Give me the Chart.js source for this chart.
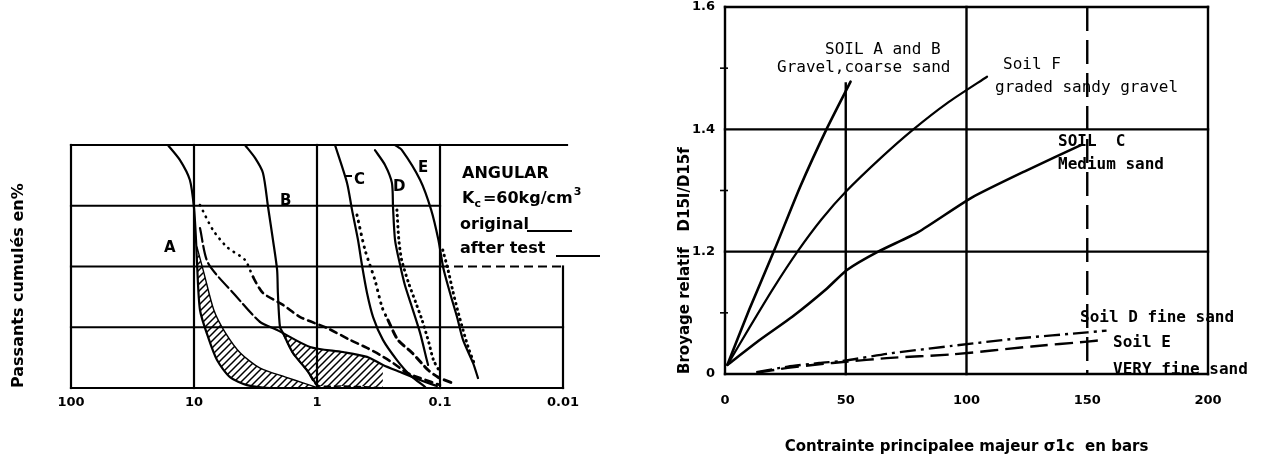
<!DOCTYPE html>
<html><head><meta charset="utf-8">
<script src="https://cdn.jsdelivr.net/npm/chart.js@4.4.1/dist/chart.umd.min.js"></script>
<style>
html,body{margin:0;padding:0;background:#fff;width:1273px;height:462px;overflow:hidden}
canvas{position:absolute;top:0}
#c1{left:0}
#c2{left:640px}
</style></head><body>
<canvas id="c1" width="640" height="462"></canvas>
<canvas id="c2" width="633" height="462"></canvas>
<script>
// ===== Left chart: grain size (mm, log, reversed) vs cumulative % passing =====
const sizeTicks = [100, 10, 1, 0.1, 0.01];
const sizeTickLabels = ['100', '10', '1', '0.1', '0.01'];
const passGrid = [25, 50, 75];

const aOrigD  = [16.3, 13.0, 10.8, 10.0, 9.63, 9.45, 8.94, 7.69, 6.50, 5.10, 3.71, 2.41, 0.98];
const aOrigP  = [100, 93.8, 85.6, 74.1, 60.9, 51.4, 32.1, 21.0, 11.5, 4.5, 1.2, 0, 0];
const aAfterD = [9.45, 8.30, 6.90, 5.60, 4.20, 2.90, 1.80, 1.30, 0.98];
const aAfterP = [58.0, 47.3, 32.1, 23.0, 14.4, 8.2, 4.5, 2.1, 0];

const bAfterD = [8.94, 7.01, 5.39, 3.85, 3.31, 2.75, 1.89, 1.37, 0.83, 0.539, 0.392, 0.307, 0.241, 0.185, 0.145, 0.1];
const bAfterP = [75.3, 65.0, 58.0, 52.7, 45.7, 39.1, 34.2, 29.2, 24.7, 19.8, 16.5, 13.6, 10.3, 6.2, 4.1, 1.2];

const a2AfterD = [8.94, 7.69, 4.64, 2.91, 2.11, 1.14, 0.615, 0.392, 0.291, 0.211, 0.145, 0.106];
const a2AfterP = [65.8, 51.4, 38.3, 27.2, 23.9, 16.9, 14.8, 12.8, 9.5, 6.6, 3.3, 0.8];

const bOrigD = [3.85, 3.19, 2.75, 2.50, 2.28, 2.11, 2.08, 2.00, 1.89, 1.57, 1.21, 1.00, 0.946];
const bOrigP = [100, 94.7, 88.5, 74.5, 60.9, 48.6, 39.1, 25.1, 22.6, 14.4, 7.4, 1.2, 0];
const bBaseD = [1.89, 1.57, 1.21, 1.00, 0.615, 0.371, 0.291];
const bBaseP = [22.6, 14.4, 7.4, 1.2, 0.8, 0.4, 0];

const cOrigD  = [0.714, 0.570, 0.519, 0.464, 0.431, 0.392, 0.350, 0.291, 0.224, 0.175, 0.132];
const cOrigP  = [100, 84.4, 73.3, 60.9, 50.6, 39.1, 29.2, 19.8, 11.5, 5.3, 0.4];
const cAfterD = [0.473, 0.407, 0.338, 0.296, 0.265, 0.220, 0.168, 0.125, 0.104, 0.080];
const cAfterP = [71.2, 56.8, 44.4, 33.3, 28.0, 19.8, 14.4, 7.4, 4.5, 2.1];

const dOrigD  = [0.338, 0.280, 0.246, 0.241, 0.232, 0.211, 0.193, 0.169, 0.145, 0.128, 0.125];
const dOrigP  = [97.9, 91.8, 84.4, 74.5, 60.9, 50.6, 42.4, 33.3, 22.6, 11.5, 9.5];
const dAfterD = [0.224, 0.216, 0.205, 0.180, 0.157, 0.140, 0.123, 0.113, 0.099];
const dAfterP = [73.3, 60.9, 52.7, 43.2, 35.0, 28.0, 18.5, 11.5, 6.2];

const eOrigD  = [0.232, 0.204, 0.145, 0.118, 0.103, 0.094, 0.0829, 0.0727, 0.065, 0.0539, 0.0491];
const eOrigP  = [100, 97.9, 85.6, 73.3, 60.9, 49.4, 39.1, 29.2, 19.8, 10.3, 4.1];
const eAfterD = [0.095, 0.086, 0.079, 0.072, 0.065, 0.058, 0.052];
const eAfterP = [56.8, 48.6, 40.3, 32.1, 23.9, 15.6, 9.5];

// ===== Right chart: major principal stress (bars) vs relative crushing D15i/D15f =====
const stressTicks = [0, 50, 100, 150, 200];
const stressTickLabels = ['0', '50', '100', '150', '200'];
const ratioTicks = [1.0, 1.2, 1.4, 1.6];
const ratioTickLabels = ['0', '1.2', '1.4', '1.6'];
const ratioGrid = [1.2, 1.4];
const ratioMinor = [1.1, 1.3, 1.5];

const soilABx = [1, 10, 20.7, 31, 42, 52];
const soilABy = [1.015, 1.105, 1.205, 1.305, 1.40, 1.478];
const soilFx  = [1, 10, 20, 30, 40, 50, 65, 78, 92, 108.5];
const soilFy  = [1.015, 1.075, 1.14, 1.20, 1.253, 1.298, 1.355, 1.40, 1.443, 1.486];
const soilCx  = [1, 14.5, 28, 42, 50.5, 63.4, 80, 102, 125, 147.8];
const soilCy  = [1.015, 1.056, 1.094, 1.139, 1.17, 1.20, 1.232, 1.288, 1.333, 1.375];
const soilDx  = [13, 26, 39, 50, 67, 94, 121, 150, 158];
const soilDy  = [1.003, 1.012, 1.018, 1.022, 1.033, 1.046, 1.058, 1.068, 1.071];
const soilEx  = [13, 26, 39, 50, 67, 94, 127, 150, 157];
const soilEy  = [1.002, 1.010, 1.016, 1.020, 1.026, 1.032, 1.045, 1.053, 1.056];

// ---------------------------------------------------------------
Chart.defaults.font.family = "'DejaVu Sans', sans-serif";
Chart.defaults.color = '#000';

const pts = (xs, ys) => xs.map((v, i) => ({x: v, y: ys[i]}));

function makeHatch() {
  const c = document.createElement('canvas');
  c.width = 7; c.height = 7;
  const g = c.getContext('2d');
  g.strokeStyle = '#000'; g.lineWidth = 1.5;
  g.beginPath();
  g.moveTo(-1, 8); g.lineTo(8, -1);
  g.moveTo(-1, 1); g.lineTo(1, -1);
  g.moveTo(6, 8); g.lineTo(8, 6);
  g.stroke();
  return document.getElementById('c1').getContext('2d').createPattern(c, 'repeat');
}
const hatch = makeHatch();

const base = {pointRadius: 0, borderColor: '#000', borderWidth: 2.2, fill: false,
  tension: 0.25, borderCapStyle: 'round', borderJoinStyle: 'round'};
const dotted = {borderDash: [0.5, 5], borderWidth: 3};

function seg(ctx, x1, y1, x2, y2, dash) {
  ctx.setLineDash(dash || []);
  ctx.beginPath(); ctx.moveTo(x1, y1); ctx.lineTo(x2, y2); ctx.stroke();
}

const leftFrame = {
  id: 'leftFrame',
  beforeDatasetsDraw(chart) {
    const {ctx, scales: {x, y}} = chart;
    const L = x.getPixelForValue(sizeTicks[0]), R = x.getPixelForValue(sizeTicks[sizeTicks.length - 1]);
    const T = y.getPixelForValue(100), B = y.getPixelForValue(0);
    const x01 = x.getPixelForValue(0.1);
    ctx.save();
    ctx.strokeStyle = '#000'; ctx.lineWidth = 2.2; ctx.lineCap = 'square';
    seg(ctx, L, T, R + 4, T);
    seg(ctx, L, T, L, B);
    seg(ctx, L, B, R, B);
    seg(ctx, R, y.getPixelForValue(50), R, B);
    sizeTicks.slice(1, -1).forEach(v => { const px = x.getPixelForValue(v); seg(ctx, px, T, px, B); });
    const y75 = y.getPixelForValue(passGrid[2]), y50 = y.getPixelForValue(passGrid[1]), y25 = y.getPixelForValue(passGrid[0]);
    seg(ctx, L, y75, x01, y75);
    seg(ctx, L, y50, x01, y50);
    ctx.lineCap = 'butt';
    seg(ctx, x01, y50, R, y50, [9, 5]);
    ctx.lineCap = 'square';
    seg(ctx, L, y25, R, y25);
    ctx.restore();
  }
};

const leftText = {
  id: 'leftText',
  afterDraw(chart) {
    const ctx = chart.ctx;
    ctx.save();
    ctx.fillStyle = '#000'; ctx.strokeStyle = '#000';
    ctx.textBaseline = 'middle'; ctx.textAlign = 'left';
    ctx.font = "bold 15px 'DejaVu Sans'";
    [['A', 164, 248], ['B', 280, 201], ['C', 354, 180], ['D', 393, 187], ['E', 418, 168]]
      .forEach(([t, px, py]) => ctx.fillText(t, px, py));
    ctx.lineWidth = 2;
    seg(ctx, 346, 176, 352, 176);
    ctx.font = "bold 16px 'DejaVu Sans'";
    ctx.fillText('ANGULAR', 462, 174);
    let cx = 462;
    ctx.fillText('K', cx, 199); cx += ctx.measureText('K').width;
    ctx.font = "bold 11px 'DejaVu Sans'";
    ctx.fillText('c', cx, 204); cx += ctx.measureText('c').width + 2;
    ctx.font = "bold 16px 'DejaVu Sans'";
    ctx.fillText('=60kg/cm', cx, 199); cx += ctx.measureText('=60kg/cm').width;
    ctx.font = "bold 11px 'DejaVu Sans'";
    ctx.fillText('3', cx + 1, 192);
    ctx.font = "bold 16px 'DejaVu Sans'";
    ctx.fillText('original', 460, 225);
    ctx.fillText('after test', 460, 249);
    ctx.lineWidth = 2;
    seg(ctx, 527, 231, 572, 231);
    seg(ctx, 556, 256, 600, 256);
    ctx.restore();
  }
};

new Chart(document.getElementById('c1'), {
  type: 'line',
  data: {datasets: [
    {...base, label: 'A original', data: pts(aOrigD, aOrigP)},
    {...base, label: 'A after test', data: pts(aAfterD, aAfterP), borderWidth: 1.4,
      fill: {target: 0, above: hatch, below: 'rgba(0,0,0,0)'}},
    {...base, label: 'B after test', data: pts(bAfterD, bAfterP), borderWidth: 2.6,
      segment: {borderDash: c => c.p0DataIndex < 4 ? [0.5, 6] : [7, 5]}},
    {...base, label: 'A after test (2)', data: pts(a2AfterD, a2AfterP),
      segment: {borderDash: c => c.p0DataIndex < 3 ? [14, 4] : []},
      fill: {target: 5, above: hatch, below: 'rgba(0,0,0,0)'}},
    {...base, label: 'B original', data: pts(bOrigD, bOrigP)},
    {...base, label: 'B after test base', data: pts(bBaseD, bBaseP), borderWidth: 1.6, borderDash: [6, 4]},
    {...base, label: 'C original', data: pts(cOrigD, cOrigP)},
    {...base, ...dotted, label: 'C after test', data: pts(cAfterD, cAfterP),
      segment: {borderDash: c => c.p0DataIndex < 4 ? [0.5, 6] : [7, 5]}},
    {...base, label: 'D original', data: pts(dOrigD, dOrigP)},
    {...base, ...dotted, label: 'D after test', data: pts(dAfterD, dAfterP)},
    {...base, label: 'E original', data: pts(eOrigD, eOrigP)},
    {...base, ...dotted, label: 'E after test', data: pts(eAfterD, eAfterP)}
  ]},
  options: {
    responsive: false, animation: false,
    layout: {padding: {left: 0, top: 145, right: 77, bottom: 0}},
    plugins: {legend: {display: false}, tooltip: {enabled: false}},
    scales: {
      x: {type: 'logarithmic', reverse: true, min: 0.01, max: 100,
        afterBuildTicks: s => { s.ticks = sizeTicks.map(v => ({value: v})); },
        afterFit: s => { s.height = 74; },
        grid: {display: false, drawTicks: false}, border: {display: false},
        ticks: {autoSkip: false, maxRotation: 0, padding: 7,
          font: {weight: 'bold', size: 13}, callback: (v, i) => sizeTickLabels[i]}},
      y: {min: 0, max: 100,
        afterFit: s => { s.width = 71; },
        grid: {display: false, drawTicks: false}, border: {display: false},
        ticks: {display: false},
        title: {display: true, text: 'Passants cumulés en%', align: 'start',
          font: {weight: 'bold', size: 16}, padding: {top: 9}}}
    }
  },
  plugins: [leftFrame, leftText]
});

// ---------------------------------------------------------------
const rightFrame = {
  id: 'rightFrame',
  beforeDatasetsDraw(chart) {
    const {ctx, scales: {x, y}} = chart;
    const L = x.getPixelForValue(stressTicks[0]), R = x.getPixelForValue(stressTicks[stressTicks.length - 1]);
    const T = y.getPixelForValue(ratioTicks[ratioTicks.length - 1]), B = y.getPixelForValue(ratioTicks[0]);
    ctx.save();
    ctx.strokeStyle = '#000'; ctx.lineWidth = 2.4; ctx.lineCap = 'square';
    seg(ctx, L, T, R, T);
    seg(ctx, L, T, L, B);
    seg(ctx, L, B, R, B);
    seg(ctx, R, T, R, B);
    ratioGrid.forEach(v => { const py = y.getPixelForValue(v); seg(ctx, L, py, R, py); });
    const x100 = x.getPixelForValue(100), x50 = x.getPixelForValue(50), x150 = x.getPixelForValue(150);
    seg(ctx, x100, T, x100, B);
    seg(ctx, x50, y.getPixelForValue(1.475), x50, B);
    ctx.lineCap = 'butt';
    seg(ctx, x150, T, x150, B, [24, 9]);
    ctx.lineWidth = 1.6;
    ratioMinor.forEach(v => { const py = y.getPixelForValue(v); seg(ctx, L - 5, py, L + 3, py); });
    ctx.restore();
  }
};

const rightText = {
  id: 'rightText',
  afterDraw(chart) {
    const ctx = chart.ctx;
    ctx.save();
    ctx.fillStyle = '#000';
    ctx.textBaseline = 'middle'; ctx.textAlign = 'left';
    ctx.font = "16px 'DejaVu Sans Mono'";
    ctx.fillText('SOIL A and B', 185, 50);
    ctx.fillText('Gravel,coarse sand', 137, 68);
    ctx.fillText('Soil F', 363, 65);
    ctx.fillText('graded sandy gravel', 355, 88);
    ctx.font = "bold 16px 'DejaVu Sans Mono'";
    ctx.fillText('SOIL  C', 418, 142);
    ctx.fillText('Medium sand', 418, 165);
    ctx.fillText('Soil D fine sand', 440, 318);
    ctx.fillText('Soil E', 473, 343);
    ctx.fillText('VERY fine sand', 473, 370);
    ctx.restore();
  }
};

const rbase = {...base, tension: 0.2};
new Chart(document.getElementById('c2'), {
  type: 'line',
  data: {datasets: [
    {...rbase, label: 'Soil A and B', data: pts(soilABx, soilABy), borderWidth: 2.6},
    {...rbase, label: 'Soil F', data: pts(soilFx, soilFy), borderWidth: 2.2},
    {...rbase, label: 'Soil C', data: pts(soilCx, soilCy), borderWidth: 2.6},
    {...rbase, label: 'Soil D', data: pts(soilDx, soilDy), borderWidth: 2.4, borderDash: [16, 5, 3, 5], borderCapStyle: 'butt'},
    {...rbase, label: 'Soil E', data: pts(soilEx, soilEy), borderWidth: 2.4, borderDash: [18, 7], borderCapStyle: 'butt'}
  ]},
  options: {
    responsive: false, animation: false,
    layout: {padding: {left: 0, top: 7, right: 65, bottom: 0}},
    plugins: {legend: {display: false}, tooltip: {enabled: false}},
    scales: {
      x: {type: 'linear', min: 0, max: 200,
        afterBuildTicks: s => { s.ticks = stressTicks.map(v => ({value: v})); },
        afterFit: s => { s.height = 88; s.paddingLeft = 0; s.paddingRight = 0; },
        grid: {display: false, drawTicks: false}, border: {display: false},
        ticks: {autoSkip: false, maxRotation: 0, padding: 19,
          font: {weight: 'bold', size: 13}, callback: (v, i) => stressTickLabels[i]},
        title: {display: true, text: 'Contrainte principalee majeur σ1c  en bars',
          font: {weight: 'bold', size: 15}, padding: {bottom: 6}}},
      y: {min: 1.0, max: 1.6,
        afterBuildTicks: s => { s.ticks = ratioTicks.map(v => ({value: v})); },
        afterFit: s => { s.width = 85; s.paddingTop = 0; s.paddingBottom = 0; },
        grid: {display: false, drawTicks: false}, border: {display: false},
        ticks: {autoSkip: false, padding: 10, font: {weight: 'bold', size: 13},
          callback: (v, i) => ratioTickLabels[i]},
        title: {display: true, text: 'Broyage relatif   D15I/D15f', align: 'start',
          font: {weight: 'bold', size: 15}, padding: {top: 36}}}
    }
  },
  plugins: [rightFrame, rightText]
});
</script>
</body></html>
